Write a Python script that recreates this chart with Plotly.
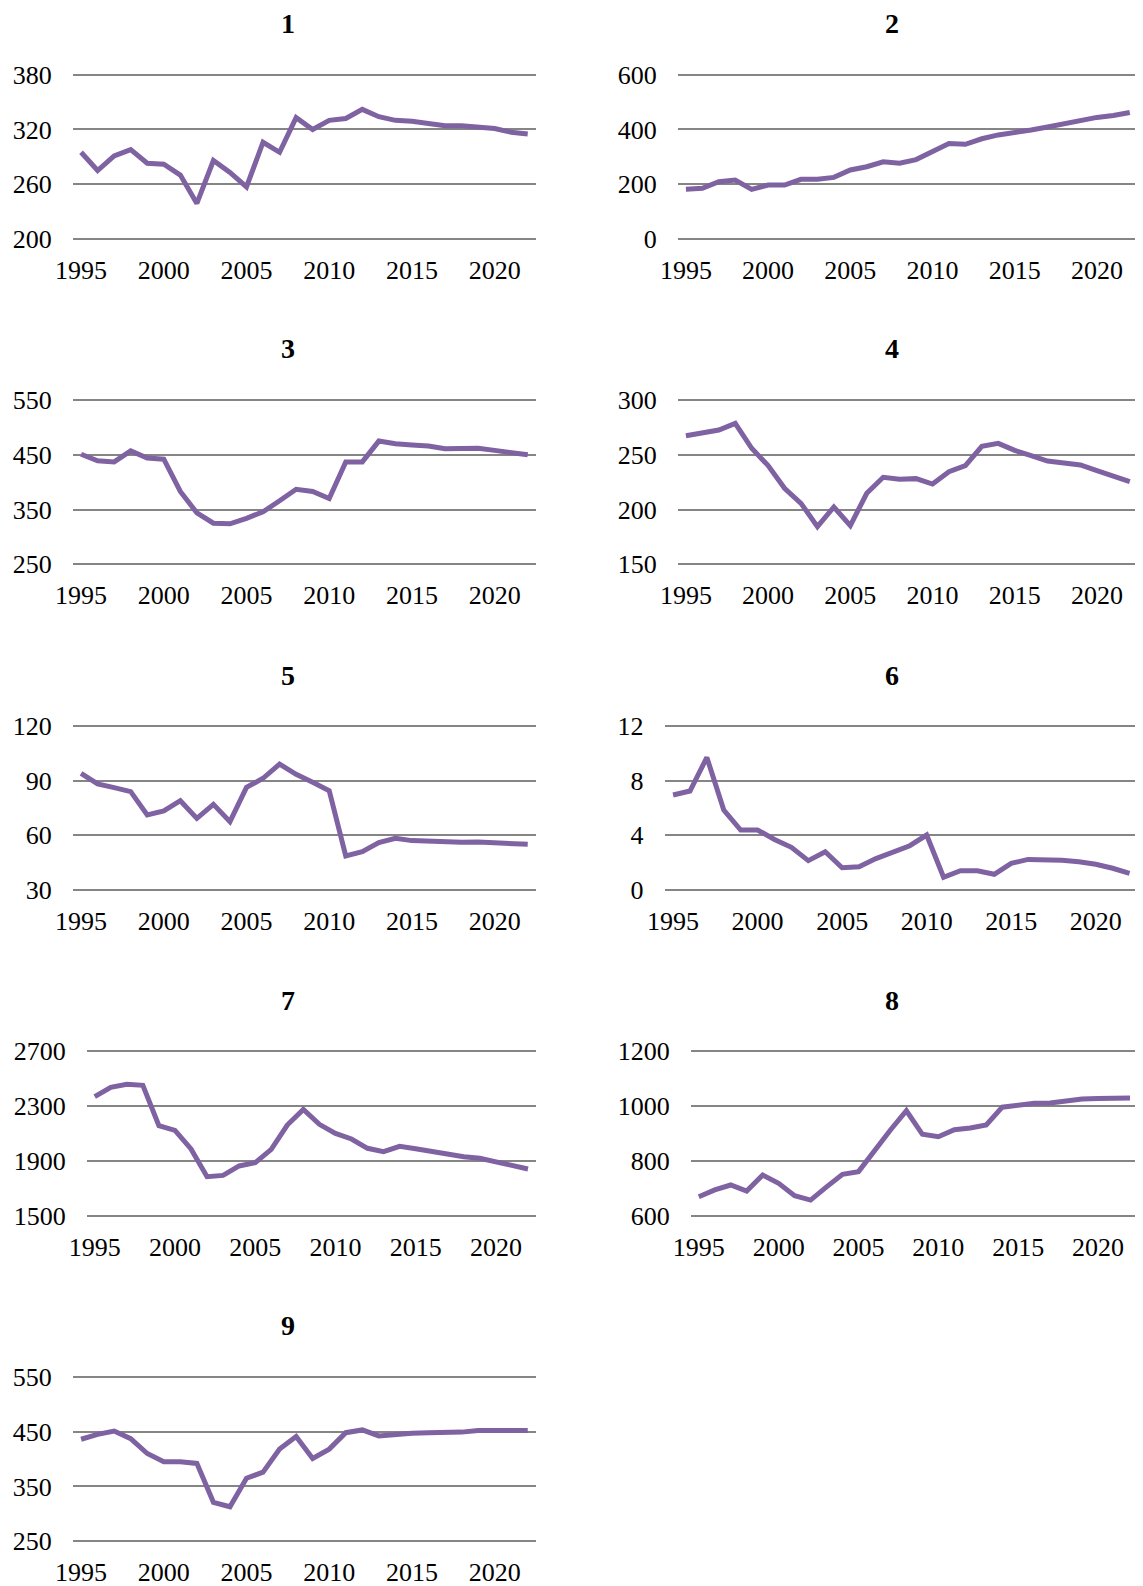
import plotly.graph_objects as go

PAGE_W, PAGE_H = 1143, 1586
OFF = 8  # default body margin of the html page
W, H = PAGE_W - OFF, PAGE_H - OFF

years = list(range(1995, 2023))
x_tick_vals = [1995, 2000, 2005, 2010, 2015, 2020]
x_tick_text = ["1995", "2000", "2005", "2010", "2015", "2020"]

titles = ["1", "2", "3", "4", "5", "6", "7", "8", "9"]

s1 = [295, 275, 291, 298, 283, 282, 270, 239, 286, 273, 257, 306, 295, 333, 320, 330,
      332, 342, 334, 330, 329, 327, 324, 324, 323, 321, 317, 315]
s2 = [182, 185, 209, 215, 181, 197, 197, 218, 218, 225, 252, 264, 282, 277, 290, 322,
      349, 346, 366, 380, 388, 398, 409, 422, 434, 444, 451, 462]
s3 = [451, 439, 437, 457, 444, 442, 383, 344, 325, 324, 334, 346, 366, 387, 383, 370,
      437, 437, 475, 470, 468, 466, 461, 461, 462, 458, 453, 450]
s4 = [267.4, 269.6, 272.6, 278.7, 255.9, 240.1, 219.4, 205.7, 184.4, 202.3, 185.3, 214.8,
      229.4, 227.6, 228.2, 223.3, 234.6, 240.1, 257.7, 260.4, 254, 249.2, 244.3, 242.5,
      240.7, 235.5, 230, 225.5]
s5 = [94, 88.2, 86.2, 84, 71.2, 73.4, 79, 69.3, 77, 67.5, 86.3, 91.3, 99.1, 93.5, 89.1,
      84.5, 48.7, 51, 56, 58.4, 57.1, 56.7, 56, 56.2, 56.3, 56, 55.2, 55.1]
s6 = [6.95, 7.24, 9.7, 5.85, 4.39, 4.39, 3.7, 3.12, 2.15, 2.8, 1.63, 1.7, 2.3, 2.75, 3.24,
      4.02, 0.93, 1.41, 1.41, 1.15, 1.95, 2.24, 2.22, 2.17, 2.07, 1.88, 1.59, 1.22]
s7 = [2369, 2437, 2459, 2452, 2157, 2123, 1987, 1785, 1794, 1863, 1887, 1984, 2162, 2276,
      2167, 2101, 2060, 1992, 1967, 2006, 1989, 1970, 1945, 1931, 1919, 1894, 1865, 1841]
s8 = [669, 694, 712, 690, 748, 718, 673, 657, 705, 751, 761, 840, 913, 983, 897, 888,
      914, 920, 931, 996, 1004, 1010, 1011, 1019, 1026, 1028, 1027, 1030]
s9 = [436, 445, 451, 437, 410, 395, 395, 392, 321, 313, 365, 376, 418, 441, 401, 418,
      448, 453, 442, 445, 447, 448, 448, 449, 452, 452, 452, 452]
series = [s1, s2, s3, s4, s5, s6, s7, s8, s9]

y_ranges = [(200, 380), (0, 600), (250, 550), (150, 300), (30, 120), (0, 12),
            (1500, 2700), (600, 1200), (250, 550)]
y_dticks = [60, 200, 100, 50, 30, 4, 400, 200, 100]

# plot-area boxes in page pixels: (left, right, top, bottom)
row_tops = [74.7, 400.0, 726.0, 1051.3, 1376.7]
row_bots = [239.0, 564.3, 890.0, 1215.7, 1541.3]
lefts = [72.8, 677.7, 72.8, 677.7, 72.8, 664.6, 86.7, 690.8, 72.8]
rights = [536, 1138, 536, 1138, 536, 1138, 536, 1138, 536]
title_x = [288, 892]
PAD = 2.0  # px of extra plot area so edge gridlines are kept

LINE = "#7f62a1"
GRID = "#858585"
FONT = "Liberation Serif"


def px_x(v):
    return (v - OFF) / W


def px_y(v):
    return 1 - (v - OFF) / H


fig = go.Figure()
annotations = []
for i, (vals, t) in enumerate(zip(series, titles)):
    r, c = divmod(i, 2)
    n = i + 1
    xa = "xaxis" if n == 1 else f"xaxis{n}"
    ya = "yaxis" if n == 1 else f"yaxis{n}"
    xref = "x" if n == 1 else f"x{n}"
    yref = "y" if n == 1 else f"y{n}"
    fig.add_trace(go.Scatter(x=years, y=vals, mode="lines",
                             line=dict(color=LINE, width=5),
                             xaxis=xref, yaxis=yref, showlegend=False,
                             hoverinfo="x+y"))
    lo, hi = y_ranges[i]
    span = hi - lo
    h = row_bots[r] - row_tops[r]
    extra = span * PAD / h
    fig.update_layout(**{
        xa: dict(domain=[px_x(lefts[i]), px_x(rights[i])], range=[1994.5, 2022.5],
                 anchor=yref, tickmode="array", tickvals=x_tick_vals,
                 ticktext=x_tick_text, showgrid=False, zeroline=False,
                 showline=False, ticks="", ticklabelstandoff=11, automargin=False,
                 tickfont=dict(family=FONT, size=26, color="black")),
        ya: dict(domain=[px_y(row_bots[r] + PAD), px_y(row_tops[r] - PAD)],
                 range=[lo - extra, hi + extra],
                 anchor=xref, tickmode="linear", tick0=lo, dtick=y_dticks[i],
                 showgrid=True, gridcolor=GRID, gridwidth=1.5, zeroline=False,
                 showline=False, ticks="", ticklabelstandoff=20, automargin=False,
                 tickfont=dict(family=FONT, size=26, color="black")),
    })
    annotations.append(dict(text=f"<b>{t}</b>", x=px_x(title_x[c]),
                            y=px_y(row_tops[r] - 51), xref="paper", yref="paper",
                            xanchor="center", yanchor="middle", showarrow=False,
                            font=dict(family=FONT, size=28, color="black")))

fig.update_layout(width=W, height=H,
                  margin=dict(l=0, r=0, t=0, b=0, pad=0, autoexpand=False),
                  paper_bgcolor="white", plot_bgcolor="white",
                  annotations=annotations)
fig.write_html("out.html")
